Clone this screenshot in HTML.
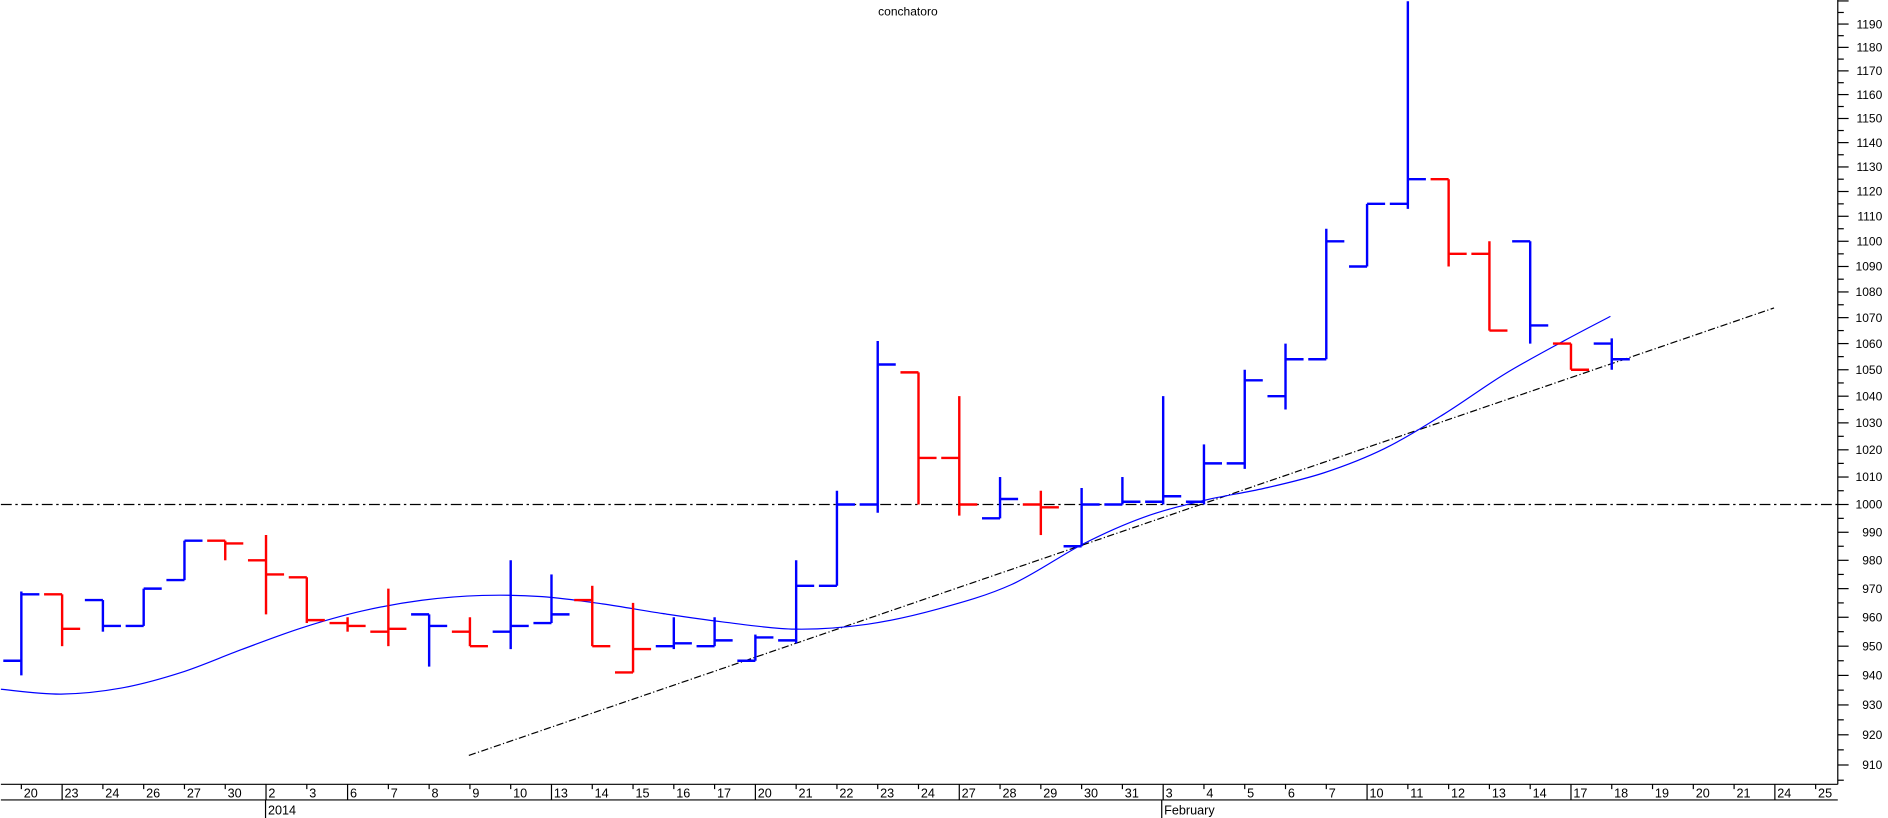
<!DOCTYPE html>
<html><head><meta charset="utf-8"><style>
html,body{margin:0;padding:0;background:#fff;}
svg{display:block;}
text{font-family:"Liberation Sans",Arial,sans-serif;}
</style></head><body>
<svg id="c" width="1888" height="818" viewBox="0 0 1568 680" xmlns="http://www.w3.org/2000/svg">
<rect width="1568" height="680" fill="#fff"/>
<text x="754" y="13" font-size="10" text-anchor="middle">conchatoro</text>
<line x1="0" y1="419.4" x2="1527" y2="419.4" stroke="#000" stroke-width="1" stroke-dasharray="9,3,2,3"/>
<line x1="389" y1="628" x2="1474" y2="256" stroke="#000" stroke-width="1" stroke-dasharray="6,2,1,2"/>
<path id="ma" d="" fill="none" stroke="#0000ff" stroke-width="1"/>
<g id="bars"></g>
<line x1="1527" y1="0" x2="1527" y2="652" stroke="#000" stroke-width="1"/>
<g id="yax"></g>
<line x1="0" y1="652" x2="1527" y2="652" stroke="#000" stroke-width="1"/>
<line x1="0" y1="665" x2="1527" y2="665" stroke="#000" stroke-width="1"/>
<g id="xax"></g>
</svg>
<script>
var NS="http://www.w3.org/2000/svg";
function Y(p){return 20+2296*Math.log(1190/p);}
function el(parent,tag,attrs,txt){var e=document.createElementNS(NS,tag);for(var k in attrs)e.setAttribute(k,attrs[k]);if(txt!==undefined)e.textContent=txt;document.getElementById(parent).appendChild(e);return e;}
var pts=[[0,573],[50,577],[100,572],[150,559],[200,540],[250,522],[300,508],[350,499],[400,495],[450,496],[500,502],[550,510],[600,517],[660,523],[720,519],[780,506],[840,486],[900,452],[950,430],[1000,416],[1050,406],[1100,393],[1150,373],[1200,344],[1250,311],[1300,283],[1338,263]];
var d="M"+pts[0][0]+","+pts[0][1];
for(var i=0;i<pts.length-1;i++){
  var p0=pts[Math.max(i-1,0)],p1=pts[i],p2=pts[i+1],p3=pts[Math.min(i+2,pts.length-1)];
  var c1=[p1[0]+(p2[0]-p0[0])/6,p1[1]+(p2[1]-p0[1])/6],c2=[p2[0]-(p3[0]-p1[0])/6,p2[1]-(p3[1]-p1[1])/6];
  d+=" C"+c1[0]+","+c1[1]+" "+c2[0]+","+c2[1]+" "+p2[0]+","+p2[1];
}
document.getElementById('ma').setAttribute('d',d);
var bars=[
[945,969,940,968,'b'],[968,968,950,956,'r'],[966,966,955,957,'b'],[957,970,957,970,'b'],
[973,987,973,987,'b'],[987,987,980,986,'r'],[980,989,961,975,'r'],[974,974,958,959,'r'],
[958,960,955,957,'r'],[955,970,950,956,'r'],[961,961,943,957,'b'],[955,960,950,950,'r'],
[955,980,949,957,'b'],[958,975,958,961,'b'],[966,971,950,950,'r'],[941,965,941,949,'r'],
[950,960,949,951,'b'],[950,960,950,952,'b'],[945,954,945,953,'b'],[952,980,951,971,'b'],
[971,1005,971,1000,'b'],[1000,1061,997,1052,'b'],[1049,1049,1000,1017,'r'],[1017,1040,996,1000,'r'],
[995,1010,995,1002,'b'],[1000,1005,989,999,'r'],[985,1006,985,1000,'b'],[1000,1010,1000,1001,'b'],
[1001,1040,1000,1003,'b'],[1001,1022,1000,1015,'b'],[1015,1050,1013,1046,'b'],[1040,1060,1035,1054,'b'],
[1054,1105,1054,1100,'b'],[1090,1115,1090,1115,'b'],[1115,1200,1113,1125,'b'],[1125,1125,1090,1095,'r'],
[1095,1100,1065,1065,'r'],[1100,1100,1060,1067,'b'],[1060,1060,1050,1050,'r'],[1060,1062,1050,1054,'b']];
bars.forEach(function(b,i){
  var x=17+33.9*i, c=b[4]=='b'?'#0000ff':'#ff0000';
  var a={stroke:c,'stroke-width':2};
  el('bars','line',Object.assign({x1:x,y1:Math.max(Y(b[1]),1),x2:x,y2:Y(b[2])},a));
  el('bars','line',Object.assign({x1:x-15,y1:Y(b[0]),x2:x,y2:Y(b[0])},a));
  el('bars','line',Object.assign({x1:x,y1:Y(b[3]),x2:x+15,y2:Y(b[3])},a));
});
for(var p=905;p<=1200;p+=5){
  var y=Y(p); if(y<0||y>650)continue;
  var maj=p%10==0;
  el('yax','line',{x1:1527,y1:y,x2:maj?1536:1532,y2:y,stroke:'#000','stroke-width':1});
  if(maj && p<1200) el('yax','text',{x:1564,y:y+3.5,'font-size':'10','text-anchor':'end'},String(p));
}
var labs=['20','23','24','26','27','30','2','3','6','7','8','9','10','13','14','15','16','17','20','21','22','23','24','27','28','29','30','31','3','4','5','6','7','10','11','12','13','14','17','18','19','20','21','24','25'];
var full={1:1,6:1,8:1,13:1,18:1,23:1,28:1,33:1,38:1,43:1};
labs.forEach(function(l,i){
  var x=17+33.9*i;
  if(full[i]) el('xax','line',{x1:x,y1:652,x2:x,y2:665,stroke:'#000','stroke-width':1});
  else el('xax','line',{x1:x,y1:652,x2:x,y2:656,stroke:'#000','stroke-width':1});
  el('xax','text',{x:x+2,y:663,'font-size':'10.5'},l);
});
el('xax','line',{x1:220,y1:665,x2:220,y2:680,stroke:'#000','stroke-width':1});
el('xax','text',{x:222,y:677,'font-size':'10.5'},'2014');
el('xax','line',{x1:965,y1:665,x2:965,y2:680,stroke:'#000','stroke-width':1});
el('xax','text',{x:967,y:677,'font-size':'10.5'},'February');
</script>
</body></html>
